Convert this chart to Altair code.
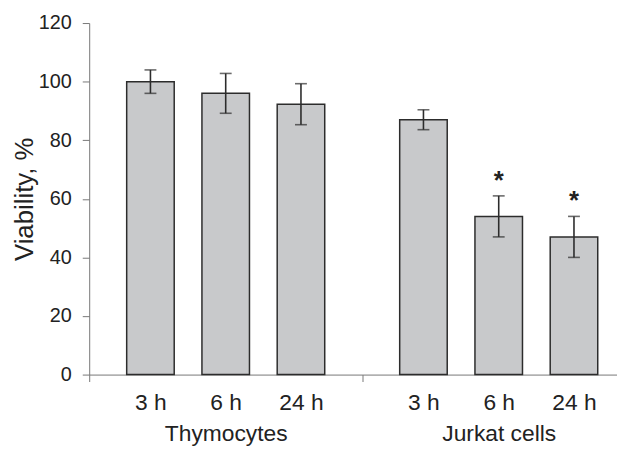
import altair as alt
import pandas as pd

# ---- data ----
groups = ["Thymocytes", "Jurkat cells"]
times = ["3 h", "6 h", "24 h"]
means = [100.0, 96.0, 92.3, 87.0, 54.0, 47.0]
errors = [4.0, 6.8, 7.0, 3.4, 7.0, 7.0]
stars = ["", "", "", "", "*", "*"]

# ---- layout constants (pixels) ----
W, H = 533, 355          # plot area
GW = 275.7               # width of one group on the axis
STEP = 76 / GW           # bar spacing inside a group (axis units)
BARW = 48 / GW           # bar width (axis units)

rows = []
for g, grp in enumerate(groups):
    for i, t in enumerate(times):
        k = g * len(times) + i
        xc = g + 0.5 + (i - 1) * STEP
        rows.append(dict(group=grp, time=t, mean=means[k], err=errors[k],
                         lo=means[k] - errors[k], hi=means[k] + errors[k],
                         star=stars[k], xc=xc, x0=xc - BARW / 2, x1=xc + BARW / 2))
df = pd.DataFrame(rows)

centers = df["xc"].tolist()
time_labels = df["time"].tolist()
lab_expr = "[" + ",".join(f"'{t}'" for t in time_labels) + "][indexof([" + \
    ",".join(repr(c) for c in centers) + "], datum.value)]"
grp_expr = "[" + ",".join(f"'{g}'" for g in groups) + "][datum.value - 0.5]"

FONT = "Liberation Sans"
TXT = "#222222"
AX = "#777777"
BAR_STROKE = "#2c2c2c"

xscale = alt.Scale(domain=[0, W / GW], nice=False, zero=False)
yscale = alt.Scale(domain=[0, 120], nice=False)

axis_time = alt.Axis(values=centers, labelExpr=lab_expr, ticks=False, tickSize=0,
                     domain=False, grid=False, title=None, orient="bottom",
                     labelPadding=35, labelBaseline="alphabetic", labelFontSize=23,
                     labelFont=FONT, labelColor=TXT, labelFlush=False,
                     labelOverlap=False, labelBound=False)
axis_line = alt.Axis(values=[0, 1], labels=False, ticks=True, tickSize=7,
                     tickColor=AX, tickWidth=1, domain=True, domainColor=AX,
                     domainWidth=1, grid=False, title=None, orient="bottom")
axis_grp = alt.Axis(values=[0.5, 1.5], labelExpr=grp_expr, ticks=False, tickSize=0,
                    domain=False, grid=False, title=None, orient="bottom",
                    labelPadding=67, labelBaseline="alphabetic", labelFontSize=23,
                    labelFont=FONT, labelColor=TXT, labelFlush=False,
                    labelOverlap=False, labelBound=False)
yaxis = alt.Axis(values=[0, 20, 40, 60, 80, 100, 120], grid=False, tickSize=7,
                 tickColor=AX, domainColor=AX, labelPadding=11, labelFontSize=20,
                 labelFont=FONT, labelColor=TXT, title="Viability, %",
                 titleFont=FONT, titleFontSize=26, titleFontWeight="normal",
                 titleColor=TXT, titleAngle=270, titleX=-57, titleY=H / 2,
                 titleBaseline="alphabetic", titleAlign="center",
                 orient="left")

base = alt.Chart(df)

bars = base.mark_bar(fill="#c8c9cb", stroke=BAR_STROKE, strokeWidth=1.5).encode(
    x=alt.X("x0:Q", scale=xscale, axis=axis_time),
    x2="x1:Q",
    y=alt.Y("mean:Q", scale=yscale, axis=yaxis),
    y2=alt.datum(0),
)

err_rule = base.mark_rule(color=BAR_STROKE, strokeWidth=1.6).encode(
    x=alt.X("xc:Q", scale=xscale, axis=axis_line),
    y=alt.Y("lo:Q", scale=yscale, axis=yaxis),
    y2="hi:Q",
)

cap_lo = base.mark_tick(orient="horizontal", size=12, thickness=1.6,
                        color=BAR_STROKE).encode(
    x=alt.X("xc:Q", scale=xscale, axis=axis_grp),
    y=alt.Y("lo:Q", scale=yscale, axis=yaxis),
)

cap_hi = base.mark_tick(orient="horizontal", size=12, thickness=1.6,
                        color=BAR_STROKE).encode(
    x=alt.X("xc:Q", scale=xscale, axis=None),
    y=alt.Y("hi:Q", scale=yscale, axis=yaxis),
)

star_txt = base.transform_filter("datum.star != ''").mark_text(
    font=FONT, fontSize=26, fontWeight="bold", color=TXT, dy=-7,
    baseline="alphabetic", align="center").encode(
    x=alt.X("xc:Q", scale=xscale, axis=None),
    y=alt.Y("hi:Q", scale=yscale, axis=yaxis),
    text="star:N",
)

chart = alt.layer(bars, err_rule, cap_lo, cap_hi, star_txt).resolve_axis(
    x="independent", y="shared"
).properties(
    width=W, height=H,
    autosize=alt.AutoSizeParams(type="none"),
    padding={"left": 82, "top": 13, "right": 0, "bottom": 78},
).configure_view(stroke=None)

chart.save("out.html", embed_options={"renderer": "svg", "actions": False})
